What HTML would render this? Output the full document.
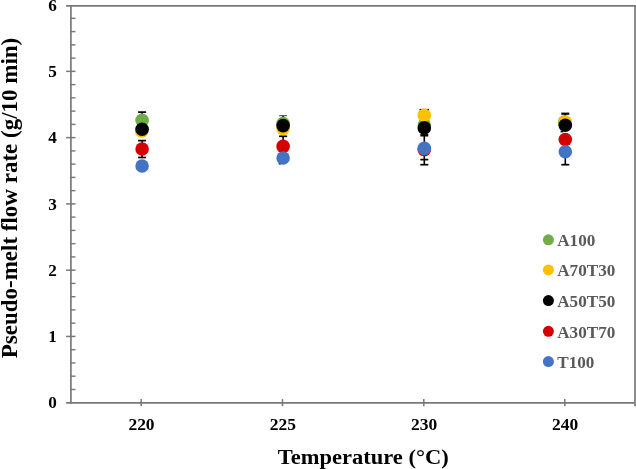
<!DOCTYPE html>
<html lang="en"><head><meta charset="utf-8"><title>Pseudo-melt flow rate vs Temperature</title>
<style>html,body{margin:0;padding:0;background:#fff;overflow:hidden}svg text{white-space:pre}</style></head>
<body>
<svg width="636" height="469" viewBox="0 0 636 469" style="display:block">
<rect width="636" height="469" fill="#fff"/>
<g stroke="#787878" stroke-width="1.7" fill="none" stroke-linecap="butt">
<path d="M70.9 5.0V403.65000000000003"/>
<path d="M66.10000000000001 5.8H635.8"/>
<path d="M635.0 5.8V406.3"/>
<path d="M66.10000000000001 402.8H635.0"/>
<path d="M70.9 389.45H75.5" stroke-width="1.4"/>
<path d="M70.9 376.19H75.5" stroke-width="1.4"/>
<path d="M70.9 362.94H75.5" stroke-width="1.4"/>
<path d="M70.9 349.69H75.5" stroke-width="1.4"/>
<path d="M66.10000000000001 336.43H75.5" stroke-width="1.5"/>
<path d="M70.9 323.18H75.5" stroke-width="1.4"/>
<path d="M70.9 309.93H75.5" stroke-width="1.4"/>
<path d="M70.9 296.67H75.5" stroke-width="1.4"/>
<path d="M70.9 283.42H75.5" stroke-width="1.4"/>
<path d="M66.10000000000001 270.17H75.5" stroke-width="1.5"/>
<path d="M70.9 256.91H75.5" stroke-width="1.4"/>
<path d="M70.9 243.66H75.5" stroke-width="1.4"/>
<path d="M70.9 230.41H75.5" stroke-width="1.4"/>
<path d="M70.9 217.15H75.5" stroke-width="1.4"/>
<path d="M66.10000000000001 203.90H75.5" stroke-width="1.5"/>
<path d="M70.9 190.65H75.5" stroke-width="1.4"/>
<path d="M70.9 177.39H75.5" stroke-width="1.4"/>
<path d="M70.9 164.14H75.5" stroke-width="1.4"/>
<path d="M70.9 150.89H75.5" stroke-width="1.4"/>
<path d="M66.10000000000001 137.63H75.5" stroke-width="1.5"/>
<path d="M70.9 124.38H75.5" stroke-width="1.4"/>
<path d="M70.9 111.13H75.5" stroke-width="1.4"/>
<path d="M70.9 97.87H75.5" stroke-width="1.4"/>
<path d="M70.9 84.62H75.5" stroke-width="1.4"/>
<path d="M66.10000000000001 71.37H75.5" stroke-width="1.5"/>
<path d="M70.9 58.11H75.5" stroke-width="1.4"/>
<path d="M70.9 44.86H75.5" stroke-width="1.4"/>
<path d="M70.9 31.61H75.5" stroke-width="1.4"/>
<path d="M70.9 18.35H75.5" stroke-width="1.4"/>
<path d="M141.20 399.1V406.3" stroke-width="1.5"/>
<path d="M282.50 399.1V406.3" stroke-width="1.5"/>
<path d="M423.80 399.1V406.3" stroke-width="1.5"/>
<path d="M564.80 399.1V406.3" stroke-width="1.5"/>
</g>
<g font-family="'Liberation Serif', serif" font-weight="bold" fill="#000">
<text transform="translate(56.8 408.30) scale(1.04 1)" font-size="16.5" text-anchor="end">0</text>
<text transform="translate(56.8 342.03) scale(1.04 1)" font-size="16.5" text-anchor="end">1</text>
<text transform="translate(56.8 275.77) scale(1.04 1)" font-size="16.5" text-anchor="end">2</text>
<text transform="translate(56.8 209.50) scale(1.04 1)" font-size="16.5" text-anchor="end">3</text>
<text transform="translate(56.8 143.23) scale(1.04 1)" font-size="16.5" text-anchor="end">4</text>
<text transform="translate(56.8 76.97) scale(1.04 1)" font-size="16.5" text-anchor="end">5</text>
<text transform="translate(56.8 10.70) scale(1.04 1)" font-size="16.5" text-anchor="end">6</text>
<text transform="translate(141.50 429.6) scale(1.06 1)" font-size="16.5" text-anchor="middle">220</text>
<text transform="translate(282.80 429.6) scale(1.06 1)" font-size="16.5" text-anchor="middle">225</text>
<text transform="translate(424.10 429.6) scale(1.06 1)" font-size="16.5" text-anchor="middle">230</text>
<text transform="translate(565.10 429.6) scale(1.06 1)" font-size="16.5" text-anchor="middle">240</text>
<text transform="translate(363.2 464) scale(1.023 1)" font-size="22" text-anchor="middle">Temperature (°C)</text>
<text transform="translate(16.5 198) rotate(-90) scale(1 1.045)" font-size="23" text-anchor="middle">Pseudo-melt flow rate (g/10 min)</text>
</g>
<g stroke="#000" fill="none">
<path d="M138.10 112.10H146.10" stroke-width="1.7" stroke="#000"/>
<path d="M142.10 112.10V120.00" stroke-width="1.6"/>
<path d="M138.10 140.60H146.10" stroke-width="1.7" stroke="#000"/>
<path d="M138.10 157.50H146.10" stroke-width="1.7" stroke="#000"/>
<path d="M142.10 140.60V157.50" stroke-width="1.6"/>
<path d="M279.10 115.70H287.10" stroke-width="1.1" stroke="#4a4a4a"/>
<path d="M283.10 115.70V118.00" stroke-width="1.6"/>
<path d="M279.10 136.30H287.10" stroke-width="1.7" stroke="#000"/>
<path d="M283.10 136.30V141.00" stroke-width="1.6"/>
<path d="M278.70 163.8H281.10" stroke-width="1.4"/>
<path d="M419.60 109.80H429.00" stroke-width="1.8" stroke="#000"/>
<path d="M420.30 135.30H428.30" stroke-width="2.4" stroke="#000"/>
<path d="M424.30 135.00V143.00" stroke-width="1.6"/>
<path d="M424.30 155.00V164.70" stroke-width="1.6"/>
<path d="M420.30 159.60H428.30" stroke-width="1.7" stroke="#000"/>
<path d="M420.30 164.70H428.30" stroke-width="1.7" stroke="#000"/>
<path d="M561.30 113.70H569.30" stroke-width="2.2" stroke="#000"/>
<path d="M565.30 113.60V117.00" stroke-width="1.6"/>
<path d="M560.50 131.6H563.30" stroke-width="1.6"/>
<path d="M565.30 157.00V164.70" stroke-width="1.6"/>
<path d="M561.30 164.70H569.30" stroke-width="1.7" stroke="#000"/>
</g>
<g>
<circle cx="142.10" cy="120.20" r="6.8" fill="#70AD47"/>
<circle cx="283.10" cy="123.50" r="6.8" fill="#70AD47"/>
<circle cx="424.30" cy="125.00" r="6.8" fill="#70AD47"/>
<circle cx="564.60" cy="122.00" r="6.8" fill="#70AD47"/>
</g>
<g>
<circle cx="141.70" cy="131.00" r="6.8" fill="#FFC000"/>
<circle cx="283.10" cy="128.40" r="6.8" fill="#FFC000"/>
<circle cx="424.30" cy="115.25" r="6.8" fill="#FFC000"/>
<circle cx="565.30" cy="122.20" r="6.8" fill="#FFC000"/>
</g>
<g>
<circle cx="142.10" cy="129.20" r="6.8" fill="#000000"/>
<circle cx="283.10" cy="125.60" r="6.8" fill="#000000"/>
<circle cx="424.30" cy="127.90" r="6.8" fill="#000000"/>
<circle cx="565.30" cy="125.30" r="6.8" fill="#000000"/>
</g>
<g>
<circle cx="142.10" cy="149.00" r="6.8" fill="#D40000"/>
<circle cx="283.10" cy="146.40" r="6.8" fill="#D40000"/>
<circle cx="424.30" cy="149.60" r="6.8" fill="#D40000"/>
<circle cx="565.30" cy="139.50" r="6.8" fill="#D40000"/>
</g>
<g>
<circle cx="142.10" cy="166.00" r="6.8" fill="#4472C4"/>
<circle cx="283.10" cy="158.00" r="6.8" fill="#4472C4"/>
<circle cx="424.30" cy="148.40" r="6.8" fill="#4472C4"/>
<circle cx="565.30" cy="151.75" r="6.8" fill="#4472C4"/>
</g>
<g font-family="'Liberation Serif', serif" font-weight="bold" fill="#595959" font-size="16.3">
<circle cx="548.4" cy="239.8" r="5.5" fill="#70AD47"/>
<text transform="translate(557.2 246.00) scale(1.052 1)">A100</text>
<circle cx="548.4" cy="269.9" r="5.5" fill="#FFC000"/>
<text transform="translate(557.2 276.10) scale(1.052 1)">A70T30</text>
<circle cx="548.4" cy="300.6" r="5.5" fill="#000000"/>
<text transform="translate(557.2 306.80) scale(1.052 1)">A50T50</text>
<circle cx="548.4" cy="331.3" r="5.5" fill="#D40000"/>
<text transform="translate(557.2 337.50) scale(1.052 1)">A30T70</text>
<circle cx="548.4" cy="361.6" r="5.5" fill="#4472C4"/>
<text transform="translate(557.2 367.80) scale(1.052 1)">T100</text>
</g>
</svg>
</body></html>
